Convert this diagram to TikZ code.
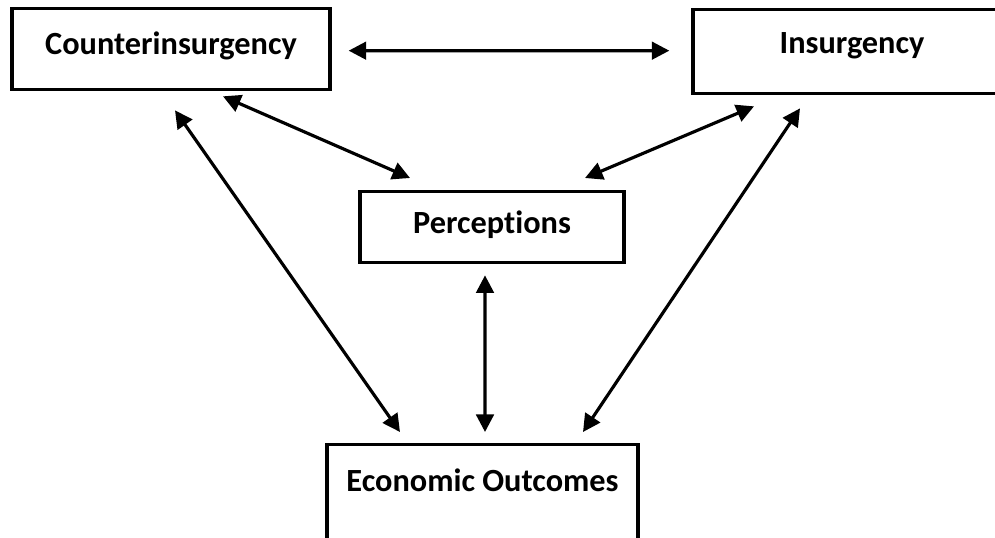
\documentclass[tikz,border=0pt]{standalone}
\usepackage{fontspec}
\setmainfont{Carlito}[Ligatures=NoCommon]
\usetikzlibrary{arrows.meta,positioning}

\tikzset{
  factor/.style={draw,line width=1.9pt,inner sep=0pt,anchor=north,align=center,
    font=\fontsize{18.4}{22}\selectfont\bfseries},
  link/.style={{Triangle[length=10pt,width=10pt]}-{Triangle[length=10pt,width=10pt]},line width=1.8pt}
}

\begin{document}
\begin{tikzpicture}
\useasboundingbox (0,0) rectangle (19.9,-10.74);
\node[factor,minimum width=6.36cm,text height=0.92cm,text depth=0.70cm] (coin) at (3.42,-0.14) {Counterinsurgency};
\node[factor,minimum width=6.36cm,text height=0.88cm,text depth=0.80cm] (insurg) at (17.04,-0.16) {Insurgency};
\node[factor,minimum width=5.28cm,text height=0.84cm,text depth=0.58cm] (percep) at (9.84,-3.80) {Perceptions};
\node[factor,minimum width=6.22cm,text height=0.94cm,text depth=1.60cm] (econ) at (9.65,-8.86) {Economic Outcomes};
% links
\draw[link] ([xshift=0.34cm,yshift=-0.03cm]coin.east) -- ([xshift=-0.44cm,yshift=0.02cm]insurg.west);
\draw[link] ([shift={(1.04,-0.10)}]coin.south) -- ([shift={(-1.64,0.24)}]percep.north);
\draw[link] ([shift={(0.08,-0.38)}]coin.south) -- ([shift={(-1.65,0.22)}]econ.north);
\draw[link] ([shift={(-1.96,-0.22)}]insurg.south) -- ([shift={(1.86,0.24)}]percep.north);
\draw[link] ([shift={(-1.04,-0.26)}]insurg.south) -- ([shift={(2.01,0.22)}]econ.north);
\draw[link] ([shift={(-0.14,-0.22)}]percep.south) -- ([shift={(0.05,0.22)}]econ.north);
\end{tikzpicture}
\end{document}
